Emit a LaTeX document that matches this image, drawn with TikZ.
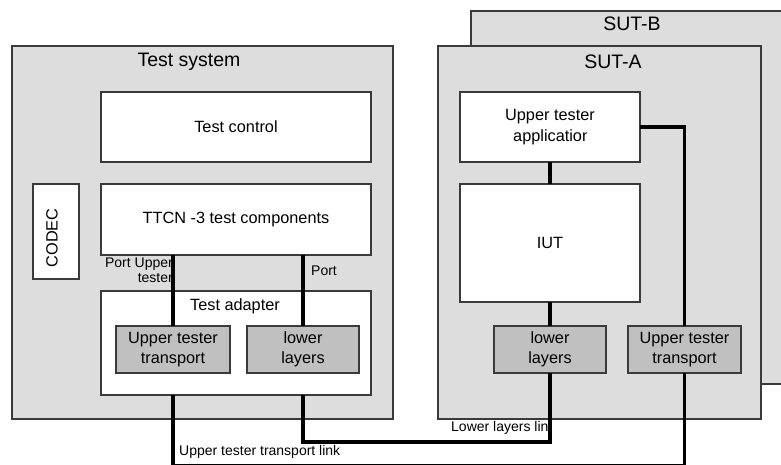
\documentclass[tikz,border=0pt]{standalone}
\usepackage{fontspec}
\setmainfont{Liberation Sans}
\definecolor{bgray}{HTML}{DDDDDD}
\definecolor{boxgray}{HTML}{C0C0C0}
\definecolor{edge}{HTML}{3A3A3A}
\begin{document}
\begin{tikzpicture}[x=1pt,y=-1pt,
  panel/.style={draw=edge, line width=1.1pt, fill=bgray, anchor=north west, inner sep=0pt, outer sep=0pt},
  wbox/.style={draw=edge, line width=1.1pt, fill=white, anchor=north west, inner sep=0pt, outer sep=0pt},
  gbox/.style={draw=edge, line width=1.1pt, fill=boxgray, anchor=north west, inner sep=0pt, outer sep=0pt},
  title/.style={font=\fontsize{19.5}{23}\selectfont, inner sep=0pt},
  btext/.style={font=\fontsize{16.3}{19.5}\selectfont, align=center, inner sep=0pt},
  stext/.style={font=\fontsize{14}{15}\selectfont, inner sep=0pt},
  link/.style={line width=3.2pt, black}]
\useasboundingbox (0,0) rectangle (781,464);
\fill[white] (0,0) rectangle (781,464);
% panels
\node[panel, minimum width=330pt, minimum height=373pt] (sutb) at (471,11) {};
\node[panel, minimum width=323pt, minimum height=373pt] (suta) at (438,46) {};
\node[panel, minimum width=381pt, minimum height=373pt] (ts) at (12,46) {};
\node[title] (tsl) at (189,62) {Test system};
\node[title] (sutal) at (613,62) {SUT-A};
\node[title] (sutbl) at (632,24) {SUT-B};
% test system boxes
\node[wbox, minimum width=270pt, minimum height=70pt] (tc) at (101,92) {};
\node[btext] at (tc.center) {Test control};
\node[wbox, minimum width=270pt, minimum height=71pt] (ttcn) at (101,184) {};
\node[btext] at (ttcn.center) {TTCN -3 test components};
\node[wbox, minimum width=46pt, minimum height=95pt] (codec) at (33,184) {};
\node[btext, rotate=90] (codecl) at (52,238) {CODEC};
\node[wbox, minimum width=270pt, minimum height=104pt] (ta) at (101,291) {};
\node[btext] (tal) at (235,306) {Test adapter};
\node[gbox, minimum width=114pt, minimum height=47pt] (utl) at (116,326) {};
\node[btext] at (utl.center) {Upper tester\\transport};
\node[gbox, minimum width=112pt, minimum height=47pt] (lll) at (247,326) {};
\node[btext] at (lll.center) {lower\\layers};
% SUT-A boxes
\node[wbox, minimum width=180pt, minimum height=70pt] (uta) at (460,92) {};
\node[btext] (utal1) at (550,117) {Upper tester};
\begin{scope}
\clip (500,127) rectangle (586,150);
\node[btext, anchor=west] (utal2) at (513,137) {application};
\end{scope}
\node[wbox, minimum width=180pt, minimum height=118pt] (iut) at (460,184) {};
\node[btext] at (iut.center) {IUT};
\node[gbox, minimum width=112pt, minimum height=47pt] (llr) at (494,326) {};
\node[btext] at (llr.center) {lower\\layers};
\node[gbox, minimum width=113pt, minimum height=47pt] (utr) at (628,326) {};
\node[btext] at (utr.center) {Upper tester\\transport};
% port labels
\node[stext, anchor=east, align=right] (pul) at (173,270.5) {Port Upper\\tester};
\begin{scope}
\clip (305,260) rectangle (336,282);
\node[stext, anchor=west] (pl) at (311,271) {Port};
\end{scope}
% connectors
\coordinate (llrow) at (0,442);
\coordinate (utrow) at (0,465.3);
\draw[link] (utl.north) -- (utl.north |- ttcn.south);
\draw[link] (lll.north) -- (lll.north |- ttcn.south);
\draw[link] (uta.south) -- (iut.north);
\draw[link] (iut.south) -- (llr.north);
\draw[link] (uta.east) -| (utr.north);
\draw[link] (ta.south -| lll.south) |- (llrow -| llr.south) -- (llr.south);
\draw[link] (ta.south -| utl.south) |- (utrow -| utr.south) -- (utr.south);
% link labels
\node[stext, anchor=west] (utll) at (179,452) {Upper tester transport link};
\begin{scope}
\clip (440,416) rectangle (548,440);
\node[stext, anchor=west] (llll) at (451,428) {Lower layers link};
\end{scope}
\end{tikzpicture}
\end{document}
